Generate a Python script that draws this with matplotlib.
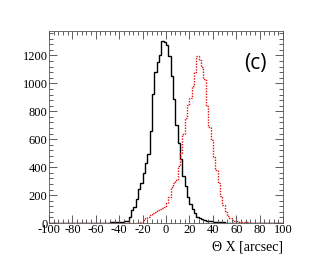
import numpy as np
import matplotlib
matplotlib.use("Agg")
import matplotlib.pyplot as plt
from matplotlib.ticker import MultipleLocator

# histogram: 100 bins of 2 arcsec from -100 to 100
edges = np.arange(-100, 102, 2)

# black (solid) counts, bins starting at -60 .. 58
black_start = -60
black_counts = [1, 1, 2, 2, 3, 3, 4, 5, 6, 7,
                9, 10, 12, 16, 40, 95, 115, 170, 245, 290,
                355, 430, 495, 660, 925, 1085, 1150, 1200, 1305, 1298,
                1275, 1195, 1050, 890, 700, 570, 455, 340, 265, 188,
                136, 103, 70, 45, 33, 26, 21, 17, 14, 11,
                9, 7, 6, 5, 4, 3, 2, 2, 1, 1]

# red (dotted) counts, bins starting at -30 .. 80
red_start = -30
red_counts = [1, 2, 3, 5, 10, 20, 33, 45, 57, 69,
              80, 90, 100, 110, 118, 140, 188, 260, 290, 310,
              405, 500, 640, 750, 845, 892, 980, 1085, 1195, 1170,
              1120, 1030, 835, 690, 595, 475, 380, 285, 190, 130,
              80, 50, 33, 22, 16, 12, 9, 7, 5, 4,
              3, 3, 2, 2, 1, 1]


def full_hist(start, counts):
    h = np.zeros(len(edges) - 1)
    i0 = (start - edges[0]) // 2
    h[i0:i0 + len(counts)] = counts
    return h


plt.rcParams["font.family"] = ["Liberation Serif", "DejaVu Serif"]
plt.rcParams["axes.unicode_minus"] = False

fig = plt.figure(figsize=(3.32, 2.63), dpi=100)
ax = fig.add_axes([0.1476, 0.152, 0.705, 0.730])

ax.stairs(full_hist(black_start, black_counts), edges, color="black", lw=1.0)
ax.stairs(full_hist(red_start, red_counts), edges, color="#dd1111",
          lw=1.0, linestyle=(0, (1, 1)))

ax.set_xlim(-100, 100)
ax.set_ylim(0, 1375)
ax.xaxis.set_major_locator(MultipleLocator(20))
ax.xaxis.set_minor_locator(MultipleLocator(4))
ax.yaxis.set_major_locator(MultipleLocator(200))
ax.yaxis.set_minor_locator(MultipleLocator(40))
ax.tick_params(which="both", direction="in", top=True, right=True,
               labelsize=9, width=0.6, color="#444444", pad=1)
ax.tick_params(which="major", length=6)
ax.tick_params(which="minor", length=3)
for s in ax.spines.values():
    s.set_linewidth(0.6)
    s.set_color("#555555")

ax.set_xlabel("\u0398 X [arcsec]", fontsize=10, loc="right", labelpad=3)
ax.text(0.88, 0.83, "(c)", transform=ax.transAxes, fontsize=15,
        family="Open Sans", ha="center", va="center")

fig.savefig("out.png", dpi=100)
